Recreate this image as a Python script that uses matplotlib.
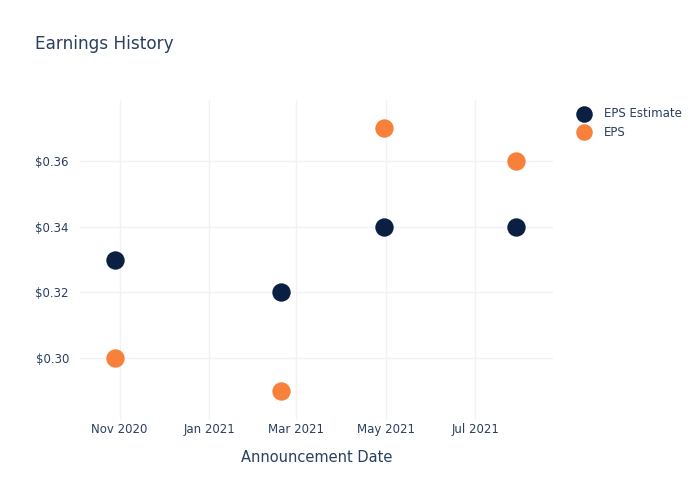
import matplotlib
matplotlib.use("Agg")
import matplotlib.pyplot as plt
import matplotlib.dates as mdates
import numpy as np

dates = np.array(["2020-10-29", "2021-02-19", "2021-04-30", "2021-07-29"], dtype="datetime64[D]")
eps_estimate = [0.33, 0.32, 0.34, 0.34]
eps_actual = [0.30, 0.29, 0.37, 0.36]

navy = "#0b1f42"
orange = "#f7803a"
text_col = "#2a3f5f"
grid_col = "#f1f2f7"

plt.rcParams["font.family"] = ["DejaVu Sans"]

fig = plt.figure(figsize=(7, 5), dpi=100)
ax = fig.add_axes([80 / 700, 80 / 500, 473 / 700, 320 / 500])

ax.scatter(dates, eps_estimate, s=175, color=navy, label="EPS Estimate", zorder=3, linewidths=0)
ax.scatter(dates, eps_actual, s=175, color=orange, label="EPS", zorder=3, linewidths=0)

ax.set_xlim(np.datetime64("2020-10-05"), np.datetime64("2021-08-23"))
ax.set_ylim(0.2812, 0.3785)

ax.xaxis.set_major_locator(mdates.MonthLocator(bymonth=[1, 3, 5, 7, 11]))
ax.xaxis.set_major_formatter(mdates.DateFormatter("%b %Y"))
ax.set_yticks([0.30, 0.32, 0.34, 0.36])
ax.set_yticklabels(["$0.30", "$0.32", "$0.34", "$0.36"])

ax.grid(True, color=grid_col, linewidth=1)
ax.set_axisbelow(True)
for sp in ax.spines.values():
    sp.set_visible(False)
ax.tick_params(axis="y", length=0, labelsize=8.5, colors=text_col, pad=8)
ax.tick_params(axis="x", length=0, labelsize=8.5, colors=text_col, pad=2)

ax.set_xlabel("Announcement Date", fontsize=10.5, color=text_col, labelpad=10)
fig.text(35 / 700, 1 - 44 / 500, "Earnings History", fontsize=12.2, color=text_col, va="center")

leg = ax.legend(loc="upper left", bbox_to_anchor=(1.03, 0.992), frameon=False,
                fontsize=8.5, labelcolor=text_col, handletextpad=0.7, borderaxespad=0,
                labelspacing=0.45, markerscale=0.9)

fig.savefig("out.png", dpi=100, facecolor="white")
